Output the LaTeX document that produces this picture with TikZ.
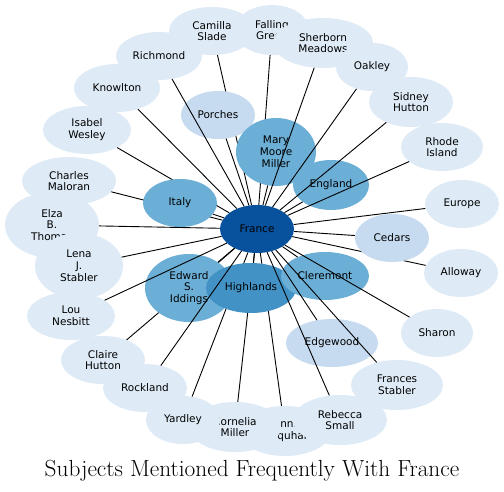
\documentclass[tikz,border=0pt]{standalone}
\usepackage{fontspec}
\usepackage{xcolor}
\usepackage{tikz}
\usetikzlibrary{shapes.geometric}
\newfontfamily\subjfont{DejaVu Sans}
\definecolor{blueslight}{RGB}{222,235,247}
\definecolor{bluespale}{RGB}{198,219,239}
\definecolor{bluesmid}{RGB}{107,174,214}
\definecolor{bluesdeep}{RGB}{66,146,198}
\definecolor{bluesdark}{RGB}{8,81,156}

\begin{document}
\begin{tikzpicture}[x=1pt, y=-1pt,
  subj/.style={ellipse, draw=none, inner sep=0pt, align=center, text=black,
    font=\subjfont\fontsize{10.5}{11.8}\selectfont},
  sz/.style 2 args={minimum width=#1pt, minimum height=#2pt},
  rare/.style={subj, fill=blueslight},
  some/.style={subj, fill=bluespale},
  often/.style={subj, fill=bluesmid},
  most/.style={subj, fill=bluesdeep},
  hub/.style={subj, fill=bluesdark},
  link/.style={draw=black, line width=0.9pt}]
  \path[fill=white] (0,0) rectangle (504,492);
  \useasboundingbox (0,0) rectangle (504,492);
  % hub first, then every subject with its link
  \node[hub, sz={74}{48}] (france) at (257,229) {France};
  \node[rare, sz={92}{50}] (ann) at (285,431) {Ann.\\Farquhar};
  \draw[link] (ann) -- (france);
  \node[rare, sz={92}{50}] (cornelia) at (235,427) {Cornelia\\Miller};
  \draw[link] (cornelia) -- (france);
  \node[rare, sz={74}{48}] (yardley) at (183,420) {Yardley};
  \draw[link] (yardley) -- (france);
  \node[rare, sz={84}{48}] (claire) at (103,360) {Claire\\Hutton};
  \draw[link] (claire) -- (france);
  \node[often, sz={88}{68}] (edward) at (189,288) {Edward\\S.\\Iddings};
  \draw[link] (edward) -- (france);
  \node[most, sz={90}{50}] (highlands) at (251,288) {Highlands};
  \draw[link] (highlands) -- (france);
  \node[rare, sz={88}{48}] (lou) at (71,316) {Lou\\Nesbitt};
  \draw[link] (lou) -- (france);
  \node[rare, sz={84}{48}] (rockland) at (145,388) {Rockland};
  \draw[link] (rockland) -- (france);
  \node[rare, sz={94}{48}] (charles) at (69,181) {Charles\\Maloran};
  \draw[link] (charles) -- (france);
  \node[rare, sz={88}{48}] (isabel) at (87,130) {Isabel\\Wesley};
  \draw[link] (isabel) -- (france);
  \node[often, sz={74}{48}] (italy) at (180,203) {Italy};
  \draw[link] (italy) -- (france);
  \node[rare, sz={94}{66}] (elza) at (52,225) {Elza\\B.\\Thomas};
  \draw[link] (elza) -- (france);
  \node[rare, sz={88}{66}] (lena) at (79,266) {Lena\\J.\\Stabler};
  \draw[link] (lena) -- (france);
  \node[rare, sz={86}{48}] (camilla) at (212,31) {Camilla\\Slade};
  \draw[link] (camilla) -- (france);
  \node[some, sz={74}{48}] (porches) at (218,115) {Porches};
  \draw[link] (porches) -- (france);
  \node[rare, sz={86}{48}] (richmond) at (159,56) {Richmond};
  \draw[link] (richmond) -- (france);
  \node[rare, sz={86}{48}] (knowlton) at (117,88) {Knowlton};
  \draw[link] (knowlton) -- (france);
  \node[rare, sz={74}{50}] (falling) at (272,30) {Falling\\Green};
  \draw[link] (falling) -- (france);
  \node[often, sz={80}{68}] (mary) at (276,152) {Mary\\Moore\\Miller};
  \draw[link] (mary) -- (france);
  \node[rare, sz={100}{50}] (sherborn) at (323,43) {Sherborn\\Meadows};
  \draw[link] (sherborn) -- (france);
  \node[rare, sz={72}{48}] (oakley) at (372,67) {Oakley};
  \draw[link] (oakley) -- (france);
  \node[often, sz={76}{50}] (england) at (331,185) {England};
  \draw[link] (england) -- (france);
  \node[rare, sz={84}{50}] (sidney) at (411,102) {Sidney\\Hutton};
  \draw[link] (sidney) -- (france);
  \node[rare, sz={82}{48}] (rhode) at (442,147) {Rhode\\Island};
  \draw[link] (rhode) -- (france);
  \node[rare, sz={74}{48}] (europe) at (462,204) {Europe};
  \draw[link] (europe) -- (france);
  \node[rare, sz={74}{48}] (alloway) at (461,273) {Alloway};
  \draw[link] (alloway) -- (france);
  \node[some, sz={74}{48}] (cedars) at (392,238) {Cedars};
  \draw[link] (cedars) -- (france);
  \node[often, sz={88}{48}] (cleremont) at (325,276) {Cleremont};
  \draw[link] (cleremont) -- (france);
  \node[rare, sz={72}{48}] (sharon) at (437,333) {Sharon};
  \draw[link] (sharon) -- (france);
  \node[some, sz={92}{48}] (edgewood) at (332,343) {Edgewood};
  \draw[link] (edgewood) -- (france);
  \node[rare, sz={92}{50}] (frances) at (397,385) {Frances\\Stabler};
  \draw[link] (frances) -- (france);
  \node[rare, sz={94}{50}] (rebecca) at (340,420) {Rebecca\\Small};
  \draw[link] (rebecca) -- (france);
  % caption
  \node[anchor=base, font=\fontsize{23.3}{27}\selectfont] (title) at (252,476)
    {Subjects Mentioned Frequently With France};
\end{tikzpicture}
\end{document}
